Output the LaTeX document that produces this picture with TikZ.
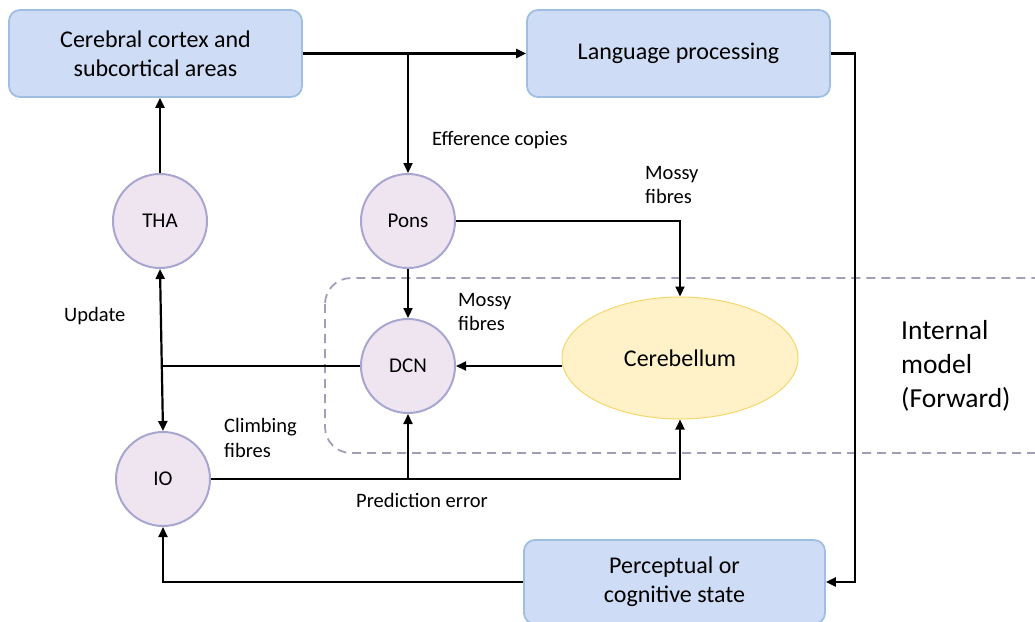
\documentclass[tikz,border=0pt]{standalone}
\usepackage{fontspec}
\setmainfont{Carlito}
\usetikzlibrary{arrows.meta,shapes.geometric}
\definecolor{boxfill}{HTML}{CFDCF5}
\definecolor{boxline}{HTML}{9FBFE2}
\definecolor{circfill}{HTML}{EFE5F1}
\definecolor{circline}{HTML}{A8A6CF}
\definecolor{cerefill}{HTML}{FFF2C8}
\definecolor{cereline}{HTML}{F5D76E}
\definecolor{dashline}{HTML}{A09FB8}
\tikzset{
  box/.style={draw=boxline, fill=boxfill, line width=1.8pt, rounded corners=11pt,
    minimum width=293pt, minimum height=87pt, align=center, font=\fontsize{24}{29}\selectfont},
  circ/.style={circle, draw=circline, fill=circfill, line width=2pt,
    minimum size=94pt, inner sep=0pt, font=\fontsize{21}{24}\selectfont},
  cere/.style={ellipse, draw=cereline, fill=cerefill, line width=1pt,
    minimum width=236pt, minimum height=122pt, inner sep=0pt, font=\fontsize{24}{28}\selectfont},
  lbl/.style={align=left, font=\fontsize{20.5}{24.5}\selectfont, inner sep=0pt},
  conn/.style={line width=2.2pt, -{Triangle[length=10pt,width=9pt]}},
  line/.style={line width=2.2pt},
}
\begin{document}
\begin{tikzpicture}[x=1pt,y=-1pt]
\useasboundingbox (0,0) rectangle (1035,621);
\begin{scope}
\clip (0,0) rectangle (1035,621);
% dashed frame of the forward model
\draw[dashline, line width=1.8pt, dash pattern=on 9pt off 6pt, rounded corners=26pt]
  (325,278) rectangle (1070,453);
% boxes
\node[box] (cortex) at (155.5,53.5) {Cerebral cortex and\\subcortical areas};
\node[box, minimum width=303pt] (lang) at (678.5,53.5) {Language processing};
\node[box, minimum width=301pt, minimum height=84pt] (state) at (674.5,582) {Perceptual or\\cognitive state};
\end{scope}
% nuclei
\node[circ] (tha) at (160,221) {THA};
\node[circ] (pons) at (408,221) {Pons};
\node[circ] (dcn) at (408,366) {DCN};
\node[circ] (io) at (163,479) {IO};
\node[cere] (cb) at (680,358) {Cerebellum};
% junction points
\coordinate (j1) at (408,53.5);
\coordinate (j2) at (163,366);
\coordinate (j3) at (408,479);
\coordinate (lr) at (855,53.5);
% connectors
\draw[conn] (cortex.east) -- (lang.west);
\draw[conn] (j1) -- (pons.north);
\draw[conn] (lang.east) -| (lr) |- (state.east);
\draw[conn] (state.west) -| (io.south);
\draw[conn] (tha.north) -- (cortex.south -| tha.north);
\draw[conn] (pons.south) -- (dcn.north);
\draw[conn] (pons.east) -| (cb.north);
\draw[conn] (cb.west |- dcn.east) -- (dcn.east);
\draw[line] (dcn.west) -- (j2);
\draw[line, {Triangle[length=10pt,width=9pt]}-{Triangle[length=10pt,width=9pt]}] (tha.south) -- (io.north);
\draw[conn] (io.east) -| (cb.south);
\draw[conn] (j3) -- (dcn.south);
% labels
\node[lbl, anchor=west] at (432,140) {Efference copies};
\node[lbl, anchor=west] at (645,185) {Mossy\\fibres};
\node[lbl, anchor=west] at (458,312) {Mossy\\fibres};
\node[lbl, anchor=west] at (64,316) {Update};
\node[lbl, anchor=west] at (224,438) {Climbing\\fibres};
\node[lbl] at (422,500) {Prediction error};
\node[align=left, anchor=west, inner sep=0pt, font=\fontsize{27.5}{34}\selectfont] at (901,366) {Internal\\model\\(Forward)};
\end{tikzpicture}
\end{document}
